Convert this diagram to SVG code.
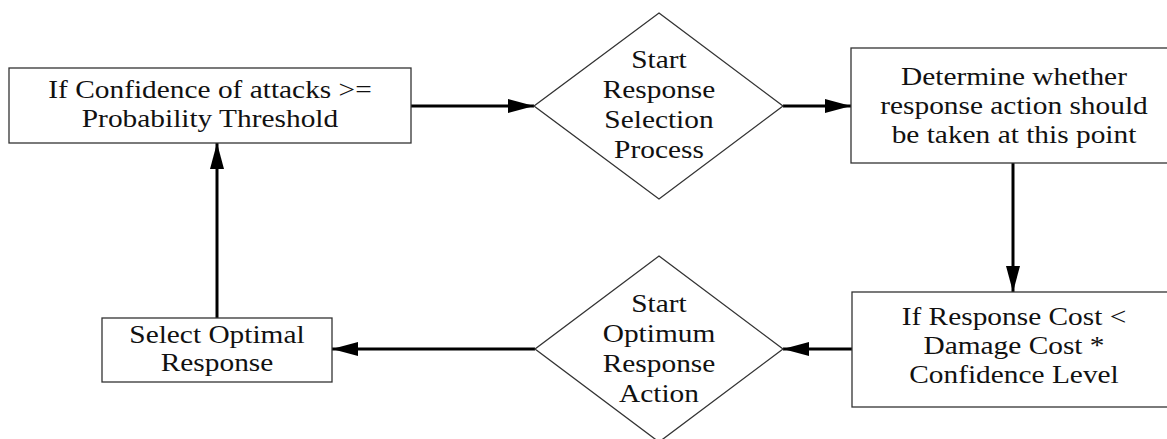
<svg xmlns="http://www.w3.org/2000/svg" width="1167" height="439" viewBox="0 0 1167 439">
<defs>
<style>
.box{fill:#fff;stroke:#333;stroke-width:1.3}
.t{font-family:"Liberation Serif","Times New Roman",serif;font-size:26px;fill:#111;text-anchor:middle}
.c{stroke:#000;stroke-width:3;fill:none}
</style>
<marker id="ah" viewBox="0 0 26 14" refX="26" refY="7" markerWidth="26" markerHeight="14" markerUnits="userSpaceOnUse" orient="auto">
<path d="M0,0 L26,7 L0,14 Z" fill="#000"/>
</marker>
</defs>
<rect width="1167" height="439" fill="#fff"/>
<g id="connectors">
<line class="c" x1="411" y1="106" x2="534" y2="106" marker-end="url(#ah)"/>
<line class="c" x1="783" y1="106" x2="851" y2="106" marker-end="url(#ah)"/>
<line class="c" x1="1013" y1="163" x2="1013" y2="292" marker-end="url(#ah)"/>
<line class="c" x1="852" y1="349" x2="783" y2="349" marker-end="url(#ah)"/>
<line class="c" x1="535" y1="349" x2="332" y2="349" marker-end="url(#ah)"/>
<line class="c" x1="217" y1="318" x2="217" y2="143" marker-end="url(#ah)"/>
</g>
<g id="n1">
<rect class="box" x="9" y="68" width="402" height="75"/>
<g transform="translate(210,0) scale(1.13,1) translate(-210,0)">
<text class="t" x="210" y="98">If Confidence of attacks &gt;=</text>
<text class="t" x="210" y="127">Probability Threshold</text>
</g>
</g>
<g id="n2">
<polygon class="box" points="659,13 783,106 659,199 534,106"/>
<g transform="translate(659,0) scale(1.13,1) translate(-659,0)">
<text class="t" x="659" y="68">Start</text>
<text class="t" x="659" y="98">Response</text>
<text class="t" x="659" y="128">Selection</text>
<text class="t" x="659" y="158">Process</text>
</g>
</g>
<g id="n3">
<rect class="box" x="851" y="48" width="318" height="115"/>
<g transform="translate(1014,0) scale(1.13,1) translate(-1014,0)">
<text class="t" x="1014" y="85">Determine whether</text>
<text class="t" x="1014" y="114">response action should</text>
<text class="t" x="1014" y="143">be taken at this point</text>
</g>
</g>
<g id="n4">
<rect class="box" x="852" y="292" width="317" height="115"/>
<g transform="translate(1014,0) scale(1.13,1) translate(-1014,0)">
<text class="t" x="1014" y="325">If Response Cost &lt;</text>
<text class="t" x="1014" y="354">Damage Cost *</text>
<text class="t" x="1014" y="383">Confidence Level</text>
</g>
</g>
<g id="n5">
<polygon class="box" points="659,256 783,349 659,442 535,349"/>
<g transform="translate(659,0) scale(1.13,1) translate(-659,0)">
<text class="t" x="659" y="312">Start</text>
<text class="t" x="659" y="342">Optimum</text>
<text class="t" x="659" y="372">Response</text>
<text class="t" x="659" y="402">Action</text>
</g>
</g>
<g id="n6">
<rect class="box" x="102" y="318" width="230" height="64"/>
<g transform="translate(217,0) scale(1.13,1) translate(-217,0)">
<text class="t" x="217" y="343">Select Optimal</text>
<text class="t" x="217" y="371">Response</text>
</g>
</g>
</svg>
